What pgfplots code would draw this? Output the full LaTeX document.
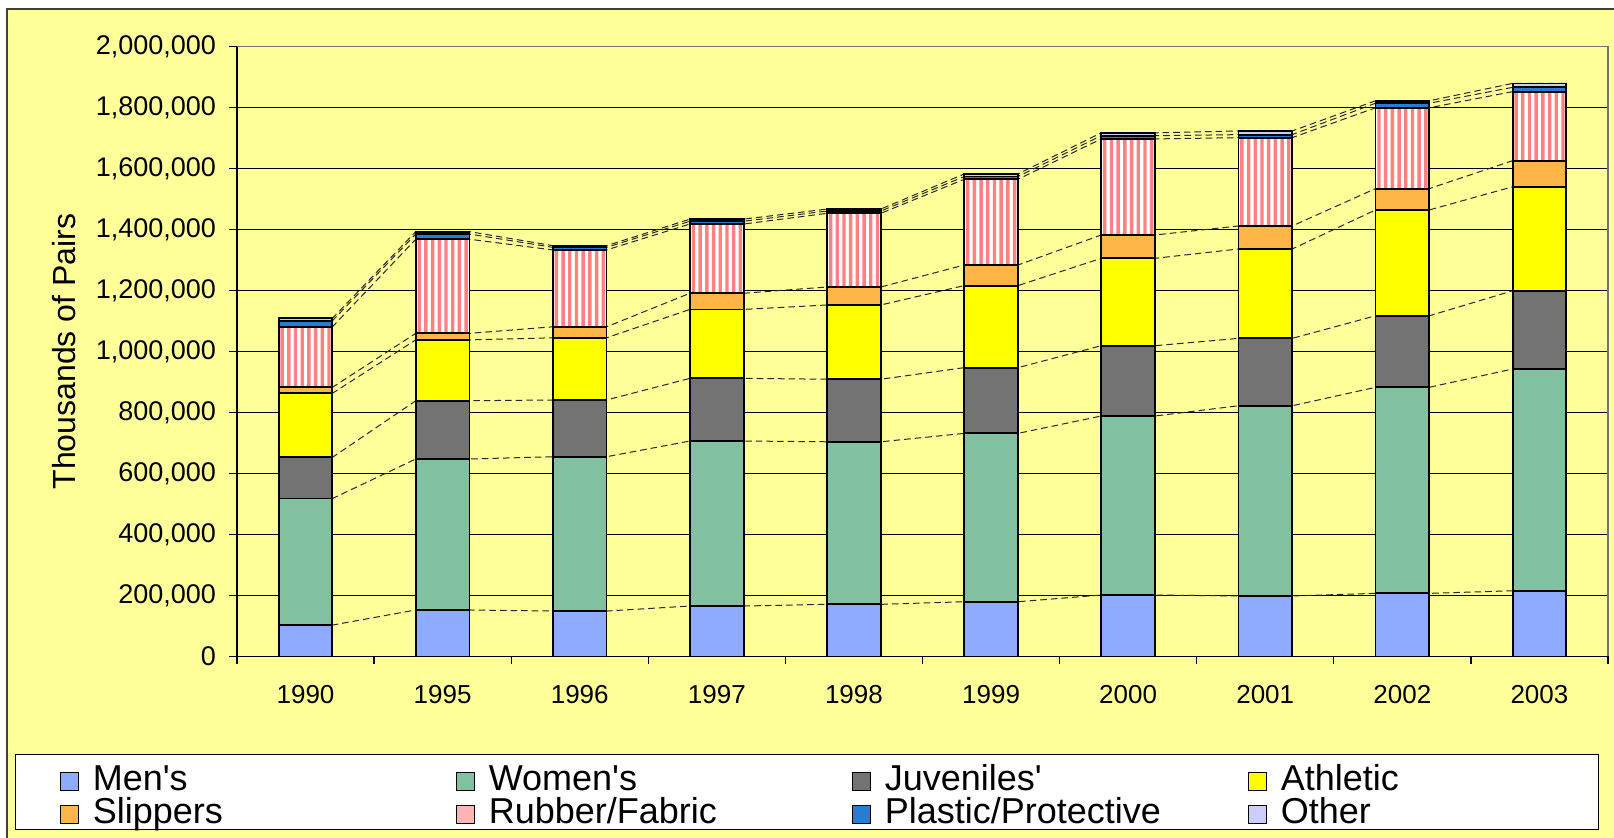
\documentclass[border=0pt]{standalone}
\usepackage{fontspec}
\setmainfont{Liberation Sans}
\usepackage{pgfplots}
\pgfplotsset{compat=1.18}
\usepackage{pgfplotstable}

\definecolor{bgyel}{HTML}{FFFF99}
\definecolor{cMen}{HTML}{3366FF}
\definecolor{cWom}{HTML}{339966}
\definecolor{cAth}{HTML}{FFFF00}
\definecolor{cSlip}{HTML}{FF9900}
\definecolor{cRub}{HTML}{FF8080}
\definecolor{cPlas}{HTML}{0066CC}
\definecolor{cOth}{HTML}{CCCCFF}

% cumulative tops of each category (thousands of pairs), at left and right bar edges
\pgfplotstableread{
cat pos men women juv ath slip rub plas oth
0 -0.196 103000 518000 653000 863000 882500 1081000 1101000 1109000
0 0.196 103000 518000 653000 863000 882500 1081000 1101000 1109000
1 0.804 152500 647500 838500 1038000 1059500 1368000 1385000 1393000
1 1.196 152500 647500 838500 1038000 1059500 1368000 1385000 1393000
2 1.804 149000 655000 841000 1045000 1081000 1333000 1341500 1347000
2 2.196 149000 655000 841000 1045000 1081000 1333000 1341500 1347000
3 2.804 165500 706500 912000 1138000 1191000 1418000 1427000 1434000
3 3.196 165500 706500 912000 1138000 1191000 1418000 1427000 1434000
4 3.804 171000 704000 909000 1152500 1211500 1453000 1460500 1467000
4 4.196 171000 704000 909000 1152500 1211500 1453000 1460500 1467000
5 4.804 179500 731500 947000 1216000 1283500 1564500 1573500 1582000
5 5.196 179500 731500 947000 1216000 1283500 1564500 1573500 1582000
6 5.804 201500 788500 1019000 1305500 1382000 1697000 1707500 1717000
6 6.196 201500 788500 1019000 1305500 1382000 1697000 1707500 1717000
7 6.804 198500 822000 1043000 1336000 1411500 1701000 1711000 1723000
7 7.196 198500 822000 1043000 1336000 1411500 1701000 1711000 1723000
8 7.804 207000 882500 1117000 1464000 1534000 1799000 1814000 1822000
8 8.196 207000 882500 1117000 1464000 1534000 1799000 1814000 1822000
9 8.804 215500 942500 1199000 1540000 1625500 1852000 1866000 1879000
9 9.196 215500 942500 1199000 1540000 1625500 1852000 1866000 1879000
}\tops

\pgfplotsset{
  mybar/.style={ybar, bar width=26.8pt, bar shift=0pt, draw=black, line width=0.9pt},
  stripe/.style={forget plot, ybar, bar width=1.7pt, bar shift=#1, draw=none, fill=cRub},
  sq/.style={legend image code/.code={\draw[#1, draw=black, line width=0.8pt] (0pt,-4.5pt) rectangle (9pt,4.5pt);}},
  serl/.style={forget plot, sharp plot, no markers, black!85, line width=0.5pt, dash pattern=on 3.3pt off 2pt},
}
\tikzset{
  sMen/.style={fill=cMen!55!white},
  sWom/.style={fill=cWom!62!white},
  sJuv/.style={fill=black!55},
  sAth/.style={fill=cAth},
  sSlip/.style={fill=cSlip!72!white},
  sRub/.style={fill=cRub!60!white},
  sPlas/.style={fill=cPlas!85!white},
  sOth/.style={fill=cOth},
}

\begin{document}
\begin{tikzpicture}
\path[use as bounding box] (0,0) rectangle (807pt,-419pt);
\clip (0,0) rectangle (807pt,-419pt);
\fill[white] (0,0) rectangle (807pt,-419pt);
\draw[black!75, line width=1pt, fill=bgyel] (3.5pt,-4.5pt) rectangle (830pt,-440pt);
\draw[black, line width=0.8pt, fill=white] (7.7pt,-377.25pt) rectangle (799.3pt,-414.8pt);
\begin{axis}[
  at={(118.5pt,-328.25pt)}, anchor=south west,
  scale only axis, width=685.5pt, height=305pt,
  xmin=-0.5, xmax=9.5, ymin=0, ymax=2000000,
  axis lines=left,
  axis line style={-, black, line width=0.8pt},
  xtick={-0.5,0.5,...,9.5},
  xticklabels={},
  xticklabel style={font=\fontsize{13}{16}\selectfont, yshift=-11pt},
  extra x ticks={0,1,2,3,4,5,6,7,8,9},
  extra x tick labels={1990,1995,1996,1997,1998,1999,2000,2001,2002,2003},
  extra x tick style={major tick length=0pt},
  ytick={0,200000,...,2000000},
  scaled y ticks=false,
  yticklabel style={font=\fontsize{13.5}{16}\selectfont, xshift=-3pt, /pgf/number format/fixed, /pgf/number format/1000 sep={,}, /pgf/number format/assume math mode=true},
  tick align=outside,
  major tick length=4pt,
  tick style={black, line width=0.6pt},
  ymajorgrids,
  grid style={black, line width=0.5pt},
  ylabel={Thousands of Pairs},
  every axis y label/.style={at={(axis description cs:-0.1262,0.5)}, rotate=90, anchor=center, font=\fontsize{16}{19}\selectfont},
  reverse legend,
  legend columns=4,
  legend style={draw=none, fill=none, inner sep=0pt, at={(axis description cs:-0.1297,-0.1770)}, anchor=north west,
     font=\fontsize{18}{20}\selectfont,
     nodes={inner sep=0pt, text height=12.8pt, text depth=3.7pt},
     /tikz/every odd column/.append style={column sep=6.8pt}},
  after end axis/.code={\draw[black!55, line width=0.8pt] (rel axis cs:0,1) -- (rel axis cs:1,1) -- (rel axis cs:1,0);},
]
\addplot[serl] table[x=pos, y=men] {\tops};
\addplot[serl] table[x=pos, y=women] {\tops};
\addplot[serl] table[x=pos, y=juv] {\tops};
\addplot[serl] table[x=pos, y=ath] {\tops};
\addplot[serl] table[x=pos, y=slip] {\tops};
\addplot[serl] table[x=pos, y=rub] {\tops};
\addplot[serl] table[x=pos, y=plas] {\tops};
\addplot[serl] table[x=pos, y=oth] {\tops};

\addplot[mybar, sOth, sq=sOth] table[x=cat, y=oth] {\tops};
\addlegendentry{\makebox[181.4pt][l]{Other}}
\addplot[mybar, sPlas, sq=sPlas] table[x=cat, y=plas] {\tops};
\addlegendentry{\makebox[181.4pt][l]{Plastic/Protective}}
\addplot[mybar, fill=white, sq=sRub] table[x=cat, y=rub] {\tops};
\addlegendentry{\makebox[181.4pt][l]{Rubber/Fabric}}
\addplot[stripe=-11.7pt] table[x=cat, y=rub] {\tops};
\addplot[stripe=-8.35pt] table[x=cat, y=rub] {\tops};
\addplot[stripe=-5pt] table[x=cat, y=rub] {\tops};
\addplot[stripe=-1.65pt] table[x=cat, y=rub] {\tops};
\addplot[stripe=1.7pt] table[x=cat, y=rub] {\tops};
\addplot[stripe=5.05pt] table[x=cat, y=rub] {\tops};
\addplot[stripe=8.4pt] table[x=cat, y=rub] {\tops};
\addplot[stripe=11.75pt] table[x=cat, y=rub] {\tops};
\addplot[mybar, fill=none, forget plot] table[x=cat, y=rub] {\tops};
\addplot[mybar, sSlip, sq=sSlip] table[x=cat, y=slip] {\tops};
\addlegendentry{\makebox[181.4pt][l]{Slippers}}
\addplot[mybar, sAth, sq=sAth] table[x=cat, y=ath] {\tops};
\addlegendentry{\makebox[181.4pt][l]{Athletic}}
\addplot[mybar, sJuv, sq=sJuv] table[x=cat, y=juv] {\tops};
\addlegendentry{\makebox[181.4pt][l]{Juveniles\textquotesingle}}
\addplot[mybar, sWom, sq=sWom] table[x=cat, y=women] {\tops};
\addlegendentry{\makebox[181.4pt][l]{Women\textquotesingle s}}
\addplot[mybar, sMen, sq=sMen] table[x=cat, y=men] {\tops};
\addlegendentry{\makebox[181.4pt][l]{Men\textquotesingle s}}
\end{axis}
\end{tikzpicture}
\end{document}
